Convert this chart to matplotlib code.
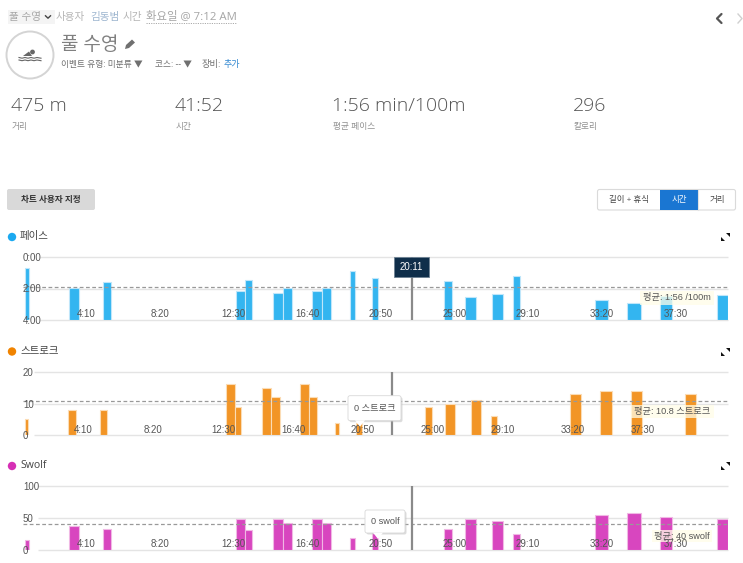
import matplotlib
matplotlib.use('Agg')
import matplotlib.pyplot as plt
from matplotlib.patches import Circle, FancyBboxPatch, Polygon, Rectangle

plt.rcParams['font.family'] = ['Open Sans', 'Noto Sans CJK KR', 'DejaVu Sans']

W, H = 743, 563
PT = 0.72  # px to pt at dpi 100

# interval edges in seconds, pace and swolf share them
pace_start = [43, 193, 309, 758, 790, 885, 919, 1018, 1051, 1146, 1221, 1465, 1535, 1627, 1700, 1978, 2087, 2198, 2390]
pace_end = [56, 226, 336, 790, 814, 919, 950, 1051, 1082, 1163, 1241, 1491, 1575, 1664, 1722, 2022, 2132, 2238, 2428]
pace_sec = [42, 118, 96, 130, 86, 136, 118, 128, 117, 55, 79, 91, 151, 140, 74, 165, 174, 150, 143]

stroke_start = [43, 195, 311, 762, 794, 888, 921, 1024, 1056, 1151, 1225, 1471, 1542, 1635, 1708, 1988, 2098, 2208, 2401]
stroke_end = [54, 225, 336, 794, 815, 921, 952, 1056, 1085, 1165, 1245, 1495, 1580, 1670, 1729, 2029, 2140, 2246, 2439]
stroke_val = [5, 8, 8, 16, 9, 15, 12, 16, 12, 4, 4, 9, 10, 11, 6, 13, 14, 14, 13]

swolf_val = [15, 38, 32, 49, 31, 49, 42, 48, 42, 18, 26, 32, 48, 46, 25, 55, 58, 51, 49]

x_ticks = [250, 500, 750, 1000, 1250, 1500, 1750, 2000, 2250, 2500]
x_labels = ['4:10', '8:20', '12:30', '16:40', '20:50', '25:00', '29:10', '33:20', '37:30', '41:40']

pace_ticks = [0, 120, 240]
pace_tick_labels = ['0:00', '2:00', '4:00']
stroke_ticks = [0, 10, 20]
swolf_ticks = [0, 50, 100]

pace_avg = 116
stroke_avg = 10.8
swolf_avg = 40
cursor_sec = 1355

stats = ['475 m', '41:52', '1:56 min/100m', '296']
stat_names = ['거리', '시간', '평균 페이스', '칼로리']
stat_x = [11, 175, 332, 573]

fig = plt.figure(figsize=(W / 100, H / 100), dpi=100, facecolor='white')

# page layer in pixel coordinates, sits on top of the charts
page = fig.add_axes([0, 0, 1, 1], zorder=5)
page.set_xlim(0, W)
page.set_ylim(H, 0)
page.axis('off')
page.patch.set_alpha(0)


def label(x, y, s, size=9, color='#666666', ha='left', **kw):
    return page.text(x, y, s, fontsize=size * PT, color=color, ha=ha, va='center', **kw)


def box(x0, y0, x1, y1, fc, ec='none', r=0, lw=1, target=None, **kw):
    if r:
        p = FancyBboxPatch((x0 + r, y0 + r), x1 - x0 - 2 * r, y1 - y0 - 2 * r,
                           boxstyle=f'round,pad={r}', fc=fc, ec=ec, lw=lw,
                           transform=page.transData, clip_on=False, **kw)
    else:
        p = Rectangle((x0, y0), x1 - x0, y1 - y0, fc=fc, ec=ec, lw=lw,
                      transform=page.transData, clip_on=False, **kw)
    (target or page).add_patch(p)
    return p


def expand_icon(cx, cy):
    page.add_patch(Polygon([(cx + 0.5, cy - 4), (cx + 4.5, cy - 4), (cx + 4.5, cy)], fc='#111111'))
    page.add_patch(Polygon([(cx - 0.5, cy + 4), (cx - 4.5, cy + 4), (cx - 4.5, cy)], fc='#111111'))


def draw_chart(top, bottom, ylim, starts, ends, values, avg, ticks, tick_labels, xs, grid_px, color, edge):
    ax = fig.add_axes([23 / W, 1 - bottom / H, (728 - 23) / W, (bottom - top) / H], zorder=1)
    ax.patch.set_alpha(0)
    offset, scale = xs
    ax.set_xlim((23 - offset) / scale, (728 - offset) / scale)
    ax.set_ylim(*ylim)
    for side in ax.spines.values():
        side.set_visible(False)
    base = ylim[0]
    widths = [e - s for s, e in zip(starts, ends)]
    heights = [v - base for v in values]
    ax.hlines(ticks, (grid_px - offset) / scale, (728 - offset) / scale, color='#e4e4e4', lw=1, zorder=0.5, clip_on=False)
    ax.bar(starts, heights, width=widths, bottom=base, align='edge', color=color, edgecolor=edge, linewidth=0.8, zorder=1)
    ax.axhline(avg, color='#999999', lw=0.9, dashes=(3, 2), zorder=1.5)
    ax.axvline(cursor_sec, color='#8a8a8a', lw=1.6, zorder=1.6)
    ax.set_axisbelow(False)
    ax.set_yticks(ticks, tick_labels, ha='left')
    shown = [t for t in x_ticks if t < (728 - offset) / scale - 60]
    ax.set_xticks(shown, x_labels[:len(shown)])
    ax.tick_params(axis='y', length=0, pad=0, labelsize=9.8 * PT, labelcolor='#555555')
    ax.tick_params(axis='x', length=0, pad=-10.6 * PT, labelsize=9.8 * PT, labelcolor='#555555')
    for t in ax.get_xticklabels() + ax.get_yticklabels():
        t.set_fontfamily(['Liberation Sans', 'Noto Sans CJK KR'])
    return ax


pace_x = (12.3, 0.2947)
stroke_x = (13.0, 0.28)
blue, orange, pink = '#33b5f0', '#f29526', '#d846bf'

ax_pace = draw_chart(257, 320, (240, 0), pace_start, pace_end, pace_sec, pace_avg, pace_ticks, pace_tick_labels,
                     pace_x, 40, blue, '#bfe6fa')
ax_stroke = draw_chart(371.7, 435.3, (0, 20), stroke_start, stroke_end, stroke_val, stroke_avg, stroke_ticks,
                       [str(t) for t in stroke_ticks], stroke_x, 34, orange, '#fbdcb5')
ax_swolf = draw_chart(486.3, 549.7, (0, 100), pace_start, pace_end, swolf_val, swolf_avg, swolf_ticks,
                      [str(t) for t in swolf_ticks], pace_x, 38, pink, '#f0b8e4')

# average labels sit above the bars but under the tick labels
avg_boxes = [(ax_pace, 640, 290.7, 714, 305, '평균: 1:56 /100m'),
             (ax_stroke, 631, 405, 713.7, 418, '평균: 10.8 스트로크'),
             (ax_swolf, 652, 530, 712, 542, '평균: 40 swolf')]
for a, x0, y0, x1, y1, s in avg_boxes:
    box(x0, y0, x1, y1, '#fffde8', target=a, alpha=0.75, zorder=2)
    a.text((x0 + x1) / 2, (y0 + y1) / 2, s, transform=page.transData, fontsize=9.2 * PT, color='#555555',
           ha='center', va='center', zorder=2.2, clip_on=False, family=['Liberation Sans', 'Noto Sans CJK KR'])

# top line
box(8, 10, 55, 24, '#f4f4f4')
label(9, 17.5, '풀 수영', 10.6, '#a5a5a5')
page.plot([45.5, 48, 50.5], [15.8, 18.2, 15.8], color='#444444', lw=1)
label(56, 17.5, '사용자', 10.6, '#b5b5b5')
label(90, 17.5, '김동범', 10.6, '#9db5cf')
label(123, 17.5, '시간', 10.6, '#b5b5b5')
label(146, 17.5, '화요일 @ 7:12 AM', 11.4, '#a5a5a5')
page.plot([146, 236], [23.3, 23.3], color='#aaaaaa', lw=0.7, dashes=(1.2, 1.2))

# activity icon
page.add_patch(Circle((30, 55), 23.5, fc='white', ec='#d4d4d4', lw=1.4))
page.add_patch(Circle((32.5, 52), 2.4, fc='#666666', ec='none'))
page.add_patch(Polygon([(23, 56), (29, 51.5), (32, 56)], fc='#666666'))
for wy in (57.5, 60):
    page.plot([19, 22, 25, 28, 31, 34, 37, 41], [wy, wy + 0.7, wy, wy + 0.7, wy, wy + 0.7, wy, wy + 0.7],
              color='#666666', lw=0.8)

label(61, 45.5, '풀 수영', 19, '#808080')
page.add_patch(Polygon([(125, 49), (126, 45), (132, 39.5), (135, 42.5), (129, 48)], fc='#707070'))
label(61, 65, '이벤트 유형: 미분류 ▼', 8.7, '#707070')
label(155, 65, '코스: -- ▼', 8.7, '#707070')
label(202, 65, '장비:', 9.2, '#707070')
label(224, 65, '추가', 9, '#2f86d0')

for x, value, name in zip(stat_x, stats, stat_names):
    label(x, 106, value, 19.5, '#555555', fontweight='light')
    label(x + 1, 127, name, 8.7, '#909090')

# nav arrows
page.plot([721.5, 717, 721.5], [14, 18.5, 23], color='#555555', lw=1.6, solid_capstyle='round')
page.plot([738, 742, 738], [14, 18.5, 23], color='#d0d0d0', lw=1)

# buttons
box(7, 189, 95, 210, '#d9d9d9', r=2)
label(51, 199.8, '차트 사용자 지정', 8.6, '#333333', ha='center', fontweight='bold')
box(597.5, 189.5, 735.5, 210, 'white', ec='#dadada', r=2, lw=0.8)
box(660, 190, 698, 209.5, '#1a76d2')
page.plot([698, 698], [190, 209.5], color='#e2e2e2', lw=0.8)
label(629, 199.8, '길이 + 휴식', 8.4, '#444444', ha='center')
label(679, 199.8, '시간', 8.4, 'white', ha='center')
label(717, 199.8, '거리', 8.4, '#444444', ha='center')

# chart titles
titles = [(237, '페이스', '#1ba9f0'), (351.5, '스트로크', '#f08300'), (466, 'Swolf', '#d62fb5')]
for y, name, c in titles:
    page.add_patch(Circle((12, y), 4.2, fc=c, ec='none'))
    label(20, y - 0.3, name, 10.5, '#444444')
    expand_icon(725, y + 0.3)

# cursor readout on the pace chart
box(393.7, 257, 428.7, 276.7, '#0f2e4a', ec='#6d8193', lw=0.6)
page.text(411, 267, '20:11', fontsize=9.6 * PT, color='white', ha='center', va='center', family='Liberation Sans')

# hover tooltips
for x0, y0, x1, y1, tip, s in [(348, 395.7, 401, 420.7, 360, '0 스트로크'), (365, 510, 405, 533, 378, '0 swolf')]:
    box(x0 + 1.5, y0 + 1.5, x1 + 1.5, y1 + 1.5, '#bbbbbb', r=2, alpha=0.5)
    box(x0, y0, x1, y1, 'white', ec='#d8d8d8', r=2, lw=0.6)
    page.add_patch(Polygon([(tip - 5, y1 - 0.4), (tip + 5, y1 - 0.4), (tip, y1 + 6)], fc='white', ec='none'))
    page.text((x0 + x1) / 2, (y0 + y1) / 2, s, fontsize=9.2 * PT, color='#555555', ha='center', va='center',
              family=['Liberation Sans', 'Noto Sans CJK KR'])

fig.savefig('out.png', dpi=100)
